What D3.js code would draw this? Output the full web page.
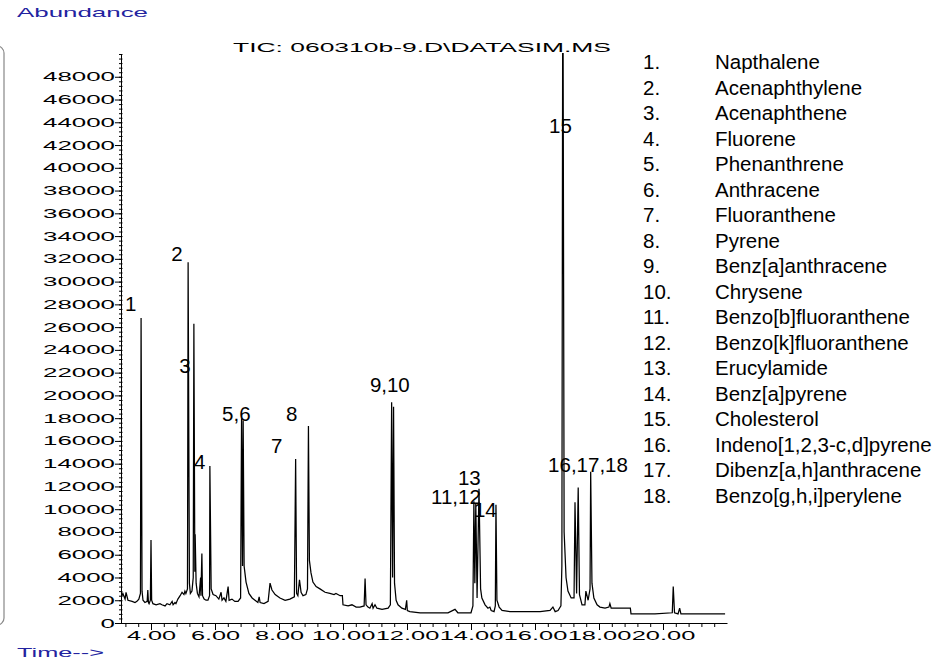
<!DOCTYPE html>
<html>
<head>
<meta charset="utf-8">
<script src="https://cdn.jsdelivr.net/npm/d3@7"></script>
<style>
  body { margin: 0; background: #fff; }
  svg text { font-family: "Liberation Sans", Arial, sans-serif; }
</style>
</head>
<body>
<div id="chart"></div>
<script>
// total ion chromatogram, [time (min), abundance]
var tic = [
  [3.06,2200],[3.12,2600],[3.19,2100],[3.22,2700],[3.28,2000],[3.41,1900],[3.50,1800],[3.56,1900],
  [3.62,2100],[3.67,2600],[3.69,26800],[3.72,2800],[3.75,2000],[3.81,1800],[3.88,1900],[3.90,2900],
  [3.92,1800],[3.94,1700],[3.98,2000],[4.00,7300],[4.02,2000],[4.06,1700],[4.16,1600],[4.28,1700],
  [4.34,1600],[4.44,1500],[4.50,1700],[4.59,1600],[4.66,1900],[4.69,1600],[4.75,1800],[4.78,1700],
  [4.84,2100],[4.91,2400],[4.97,2700],[5.03,2500],[5.06,2800],[5.09,2600],[5.14,3000],[5.16,31700],
  [5.20,3500],[5.23,2600],[5.28,2800],[5.32,4000],[5.34,26300],[5.37,4500],[5.38,7800],[5.41,3500],
  [5.45,2600],[5.50,2300],[5.55,4000],[5.56,2400],[5.59,6100],[5.61,2400],[5.66,2100],[5.72,2000],
  [5.78,2000],[5.83,2400],[5.84,13800],[5.88,3000],[5.94,2500],[6.03,2400],[6.12,2100],[6.19,2700],
  [6.22,2000],[6.28,2200],[6.34,1900],[6.41,3200],[6.44,2000],[6.53,2100],[6.62,1900],[6.72,1900],
  [6.80,2200],[6.83,18000],[6.86,5000],[6.88,17800],[6.91,5000],[6.97,3600],[7.06,2600],[7.16,2200],
  [7.25,2000],[7.34,1800],[7.38,2300],[7.41,1800],[7.53,1700],[7.66,1900],[7.72,3500],[7.78,2900],
  [7.88,2500],[8.03,2200],[8.19,2000],[8.34,2100],[8.48,2300],[8.52,14400],[8.55,2600],[8.59,2400],
  [8.64,3800],[8.69,2700],[8.75,2400],[8.84,2500],[8.89,3000],[8.92,17300],[8.95,5500],[9.00,4400],
  [9.06,3600],[9.16,3200],[9.28,3000],[9.44,2700],[9.59,2600],[9.72,2500],[9.78,2600],[9.91,2400],
  [9.98,2400],[10.00,1600],[10.16,1500],[10.28,1600],[10.41,1400],[10.53,1400],[10.66,1500],[10.69,3900],
  [10.72,1600],[10.78,1400],[10.84,1300],[10.91,1700],[10.94,1300],[11.00,1600],[11.06,1300],[11.22,1200],
  [11.41,1300],[11.48,1600],[11.52,19400],[11.55,4000],[11.58,19000],[11.61,3500],[11.66,2000],[11.72,1600],
  [11.84,1300],[11.95,1200],[11.99,2000],[12.01,1100],[12.09,1000],[12.41,900],[12.72,900],[13.03,900],
  [13.28,900],[13.50,1200],[13.59,900],[13.81,900],[14.00,900],[14.06,1500],[14.09,10700],[14.12,3500],
  [14.15,10500],[14.19,2200],[14.25,11800],[14.30,3000],[14.34,2200],[14.44,1600],[14.53,1300],[14.59,1400],
  [14.63,1100],[14.72,1000],[14.76,1500],[14.78,10400],[14.81,2000],[14.88,1400],[14.97,1100],[15.22,1000],
  [15.53,1000],[15.84,1000],[16.16,1000],[16.47,1100],[16.56,1400],[16.63,1000],[16.72,1100],[16.81,1500],
  [16.84,5000],[16.87,62000],[16.91,8000],[16.97,4000],[17.03,2800],[17.13,2200],[17.22,2200],[17.25,10600],
  [17.30,2600],[17.35,11900],[17.39,2500],[17.47,1600],[17.56,1600],[17.59,2800],[17.66,2000],[17.72,3000],
  [17.74,13300],[17.78,3500],[17.84,2200],[17.94,1600],[18.03,1400],[18.19,1300],[18.31,1400],[18.34,1700],
  [18.38,1300],[18.66,1300],[18.98,1300],[19.00,800],[19.28,800],[19.75,800],[20.29,900],[20.32,3200],
  [20.36,900],[20.47,800],[20.52,1300],[20.56,800],[20.84,800],[21.16,800],[21.47,800],[21.94,800]
];

var yTicks = d3.range(0, 48001, 2000);
var xTicks = [4, 6, 8, 10, 12, 14, 16, 18, 20];

// peak annotations (text, time, abundance of the text baseline start)
var peakText = ["1", "2", "3", "4", "5,6", "7", "8", "9,10", "11,12", "13", "14", "15", "16,17,18"];
var peakTime = [3.19, 4.63, 4.88, 5.34, 6.22, 7.75, 8.22, 10.84, 12.75, 13.59, 14.09, 16.44, 16.41];
var peakAbund = [27430, 31820, 21980, 13540, 17760, 14950, 17760, 20310, 10460, 12130, 9320, 43080, 13270];

var legendNum = ["1.", "2.", "3.", "4.", "5.", "6.", "7.", "8.", "9.", "10.", "11.", "12.", "13.", "14.", "15.", "16.", "17.", "18."];
var legendName = ["Napthalene", "Acenaphthylene", "Acenaphthene", "Fluorene", "Phenanthrene", "Anthracene",
  "Fluoranthene", "Pyrene", "Benz[a]anthracene", "Chrysene", "Benzo[b]fluoranthene", "Benzo[k]fluoranthene",
  "Erucylamide", "Benz[a]pyrene", "Cholesterol", "Indeno[1,2,3-c,d]pyrene", "Dibenz[a,h]anthracene",
  "Benzo[g,h,i]perylene"];

var W = 941, H = 659;
var plot = { left: 121, right: 727, top: 54, bottom: 623 };

var svg = d3.select("#chart").append("svg")
  .attr("width", W).attr("height", H);

svg.append("rect").attr("width", W).attr("height", H).attr("fill", "#fff");

var x = d3.scaleLinear().domain([3.0625, 22.0]).range([plot.left, plot.right]);
var y = d3.scaleLinear().domain([0, 50000]).range([plot.bottom, plot.top]);

// wide stretched axis font: width per glyph
function wideLen(s) {
  var w = 0;
  for (var i = 0; i < s.length; i++) w += (s[i] === "." ? 6 : 14.4);
  return w;
}

// left rounded border
svg.append("rect")
  .attr("x", -20).attr("y", 46).attr("width", 24).attr("height", 579)
  .attr("rx", 7)
  .attr("fill", "none").attr("stroke", "#888").attr("stroke-width", 1.2);

svg.append("text").attr("x", 17).attr("y", 17)
  .attr("font-size", 13).attr("fill", "#2323a0")
  .attr("textLength", 131).attr("lengthAdjust", "spacingAndGlyphs")
  .text("Abundance");

svg.append("text").attr("x", 17).attr("y", 657)
  .attr("font-size", 13).attr("fill", "#2323a0")
  .attr("textLength", 87).attr("lengthAdjust", "spacingAndGlyphs")
  .text("Time-->");

svg.append("text").attr("x", 233).attr("y", 52)
  .attr("font-size", 13).attr("fill", "#000")
  .attr("textLength", 378).attr("lengthAdjust", "spacingAndGlyphs")
  .text("TIC: 060310b-9.D\\DATASIM.MS");

// y axis
var yMinor = svg.append("g")
  .attr("transform", "translate(" + plot.left + ",0)")
  .call(d3.axisLeft(y).tickValues(d3.range(0, 50001, 400)).tickSize(2).tickFormat(""));
yMinor.select(".domain").remove();
yMinor.selectAll("line").attr("x2", -2).attr("x1", 1.5).attr("stroke", "#000");

var yAxis = svg.append("g")
  .attr("transform", "translate(" + plot.left + ",0)")
  .call(d3.axisLeft(y).tickValues(yTicks).tickSize(6).tickSizeOuter(0).tickPadding(1)
    .tickFormat(d3.format("d")));
yAxis.selectAll("text")
  .attr("font-size", 12.5).attr("fill", "#000")
  .attr("text-anchor", "start")
  .attr("x", function(d) { return -6 - wideLen(String(d)); })
  .attr("textLength", function(d) { return wideLen(String(d)); })
  .attr("lengthAdjust", "spacingAndGlyphs");
yAxis.select(".domain").attr("stroke", "#000");

// x axis
var xMinor = svg.append("g")
  .attr("transform", "translate(0," + plot.bottom + ")")
  .call(d3.axisBottom(x).tickValues(d3.range(3.2, 22.0, 0.4)).tickSize(4).tickFormat(""));
xMinor.select(".domain").remove();

var xAxis = svg.append("g")
  .attr("transform", "translate(0," + plot.bottom + ")")
  .call(d3.axisBottom(x).tickValues(xTicks).tickSize(7).tickSizeOuter(0).tickPadding(1)
    .tickFormat(d3.format(".2f")));
xAxis.selectAll("text")
  .attr("font-size", 12.5).attr("fill", "#000")
  .attr("text-anchor", "start")
  .attr("x", function(d) { return -wideLen(d3.format(".2f")(d)) / 2; })
  .attr("textLength", function(d) { return wideLen(d3.format(".2f")(d)); })
  .attr("lengthAdjust", "spacingAndGlyphs");
xAxis.select(".domain").attr("stroke", "#000");

// trace
svg.append("clipPath").attr("id", "clip")
  .append("rect")
  .attr("x", plot.left).attr("y", plot.top - 1)
  .attr("width", plot.right - plot.left).attr("height", plot.bottom - plot.top + 1);

var line = d3.line()
  .x(function(d) { return x(d[0]); })
  .y(function(d) { return y(d[1]); });

svg.append("path")
  .datum(tic)
  .attr("clip-path", "url(#clip)")
  .attr("d", line)
  .attr("fill", "none")
  .attr("stroke", "#000")
  .attr("stroke-width", 1.25);

// peak labels
svg.append("g").selectAll("text")
  .data(peakText)
  .enter().append("text")
  .attr("x", function(d, i) { return x(peakTime[i]); })
  .attr("y", function(d, i) { return y(peakAbund[i]); })
  .attr("font-size", 20.5)
  .attr("fill", "#000")
  .text(function(d) { return d; });

// compound legend
var legend = svg.append("g").selectAll("g")
  .data(legendName)
  .enter().append("g")
  .attr("transform", function(d, i) { return "translate(0," + (69 + i * 25.5) + ")"; });

legend.append("text")
  .attr("x", 643)
  .attr("font-size", 20.5)
  .text(function(d, i) { return legendNum[i]; });

legend.append("text")
  .attr("x", 715)
  .attr("font-size", 20.5)
  .text(function(d) { return d; });
</script>
</body>
</html>
